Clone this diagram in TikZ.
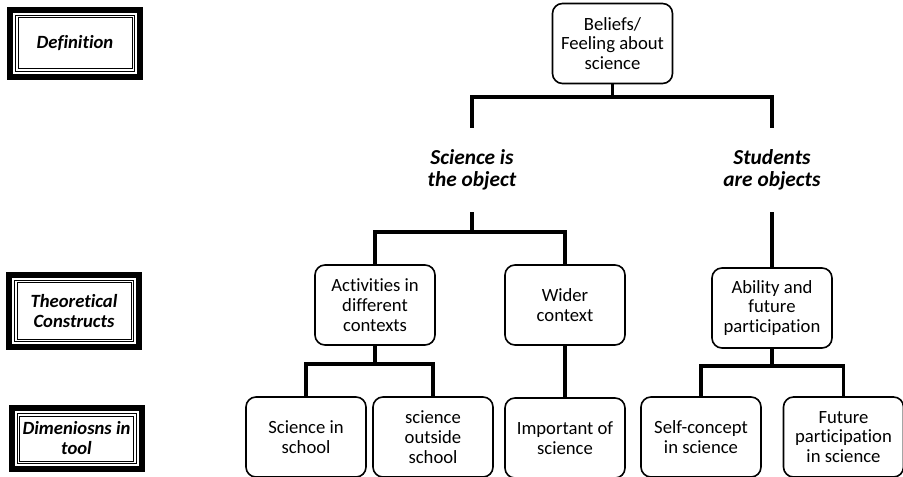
\documentclass[tikz,border=0pt]{standalone}
\usepackage{fontspec}
\setmainfont{Carlito}[Ligatures=NoCommon]
\usetikzlibrary{calc}
\begin{document}
\begin{tikzpicture}[x=0.75pt,y=-0.75pt,
  box/.style={shape=rectangle,draw,rounded corners=7.5pt,line width=1.2pt,minimum width=90pt,minimum height=60pt,inner sep=0pt,align=center,font=\fontsize{14}{14.8}\selectfont},
  obj/.style={shape=rectangle,minimum width=92pt,minimum height=63pt,inner sep=0pt,align=center,font=\fontsize{16}{16.5}\selectfont\bfseries\itshape},
  tag/.style={shape=rectangle,draw,line width=4.5pt,outer sep=0pt,minimum width=97.5pt,inner sep=0pt,align=center,font=\fontsize{14}{15}\selectfont\bfseries\itshape},
  link/.style={line width=2.4pt}]
\useasboundingbox (0,0) rectangle (903,477);
% row labels
\node (def) at (75,43.5) [tag,minimum height=50.25pt]{Definition};
\node (theo) at (74,311) [tag,minimum height=54pt]{Theoretical\\Constructs};
\node (dim) at (76.5,438.5) [tag,minimum height=45.75pt]{Dimeniosns in\\tool};
\foreach \n in {def,theo,dim}
  \foreach \d in {5.5,8}
    \draw [line width=0.75pt] ($(\n.north west)+(\d,\d)$) rectangle ($(\n.south east)-(\d,\d)$);
% tree
\node (belief) at (612.5,43.5) [box]{Beliefs/\\Feeling about\\science};
\node (sci) at (472,170) [obj]{Science is\\the object};
\node (stu) at (772,170) [obj]{Students\\are objects};
\node (act) at (375,305) [box]{Activities in\\different\\contexts};
\node (wid) at (565,305) [box]{Wider\\context};
\node (abil) at (772,308) [box]{Ability and\\future\\participation};
\node (sis) at (306,437) [box]{Science in\\school};
\node (sos) at (433,437) [box]{science\\outside\\school};
\node (imp) at (565,438) [box]{Important of\\science};
\node (selfc) at (701,437) [box]{Self-concept\\in science};
\node (fut) at (843.5,437) [box]{Future\\participation\\in science};
\coordinate (bartop) at (0,97);
\coordinate (barsci) at (0,232);
\coordinate (baract) at (0,364);
\coordinate (barabil) at (0,366);
\draw [link] (belief.south) -- (belief.south |- bartop) -| (sci.north);
\draw [link] (belief.south |- bartop) -| (stu.north);
\draw [link] (sci.south) -- (sci.south |- barsci) -| (act.north);
\draw [link] (sci.south |- barsci) -| (wid.north);
\draw [link] (stu.south) -- (abil.north);
\draw [link] (act.south) -- (act.south |- baract) -| (sis.north);
\draw [link] (act.south |- baract) -| (sos.north);
\draw [link] (wid.south) -- (imp.north);
\draw [link] (abil.south) -- (abil.south |- barabil) -| (selfc.north);
\draw [link] (abil.south |- barabil) -| (fut.north);
\end{tikzpicture}
\end{document}
